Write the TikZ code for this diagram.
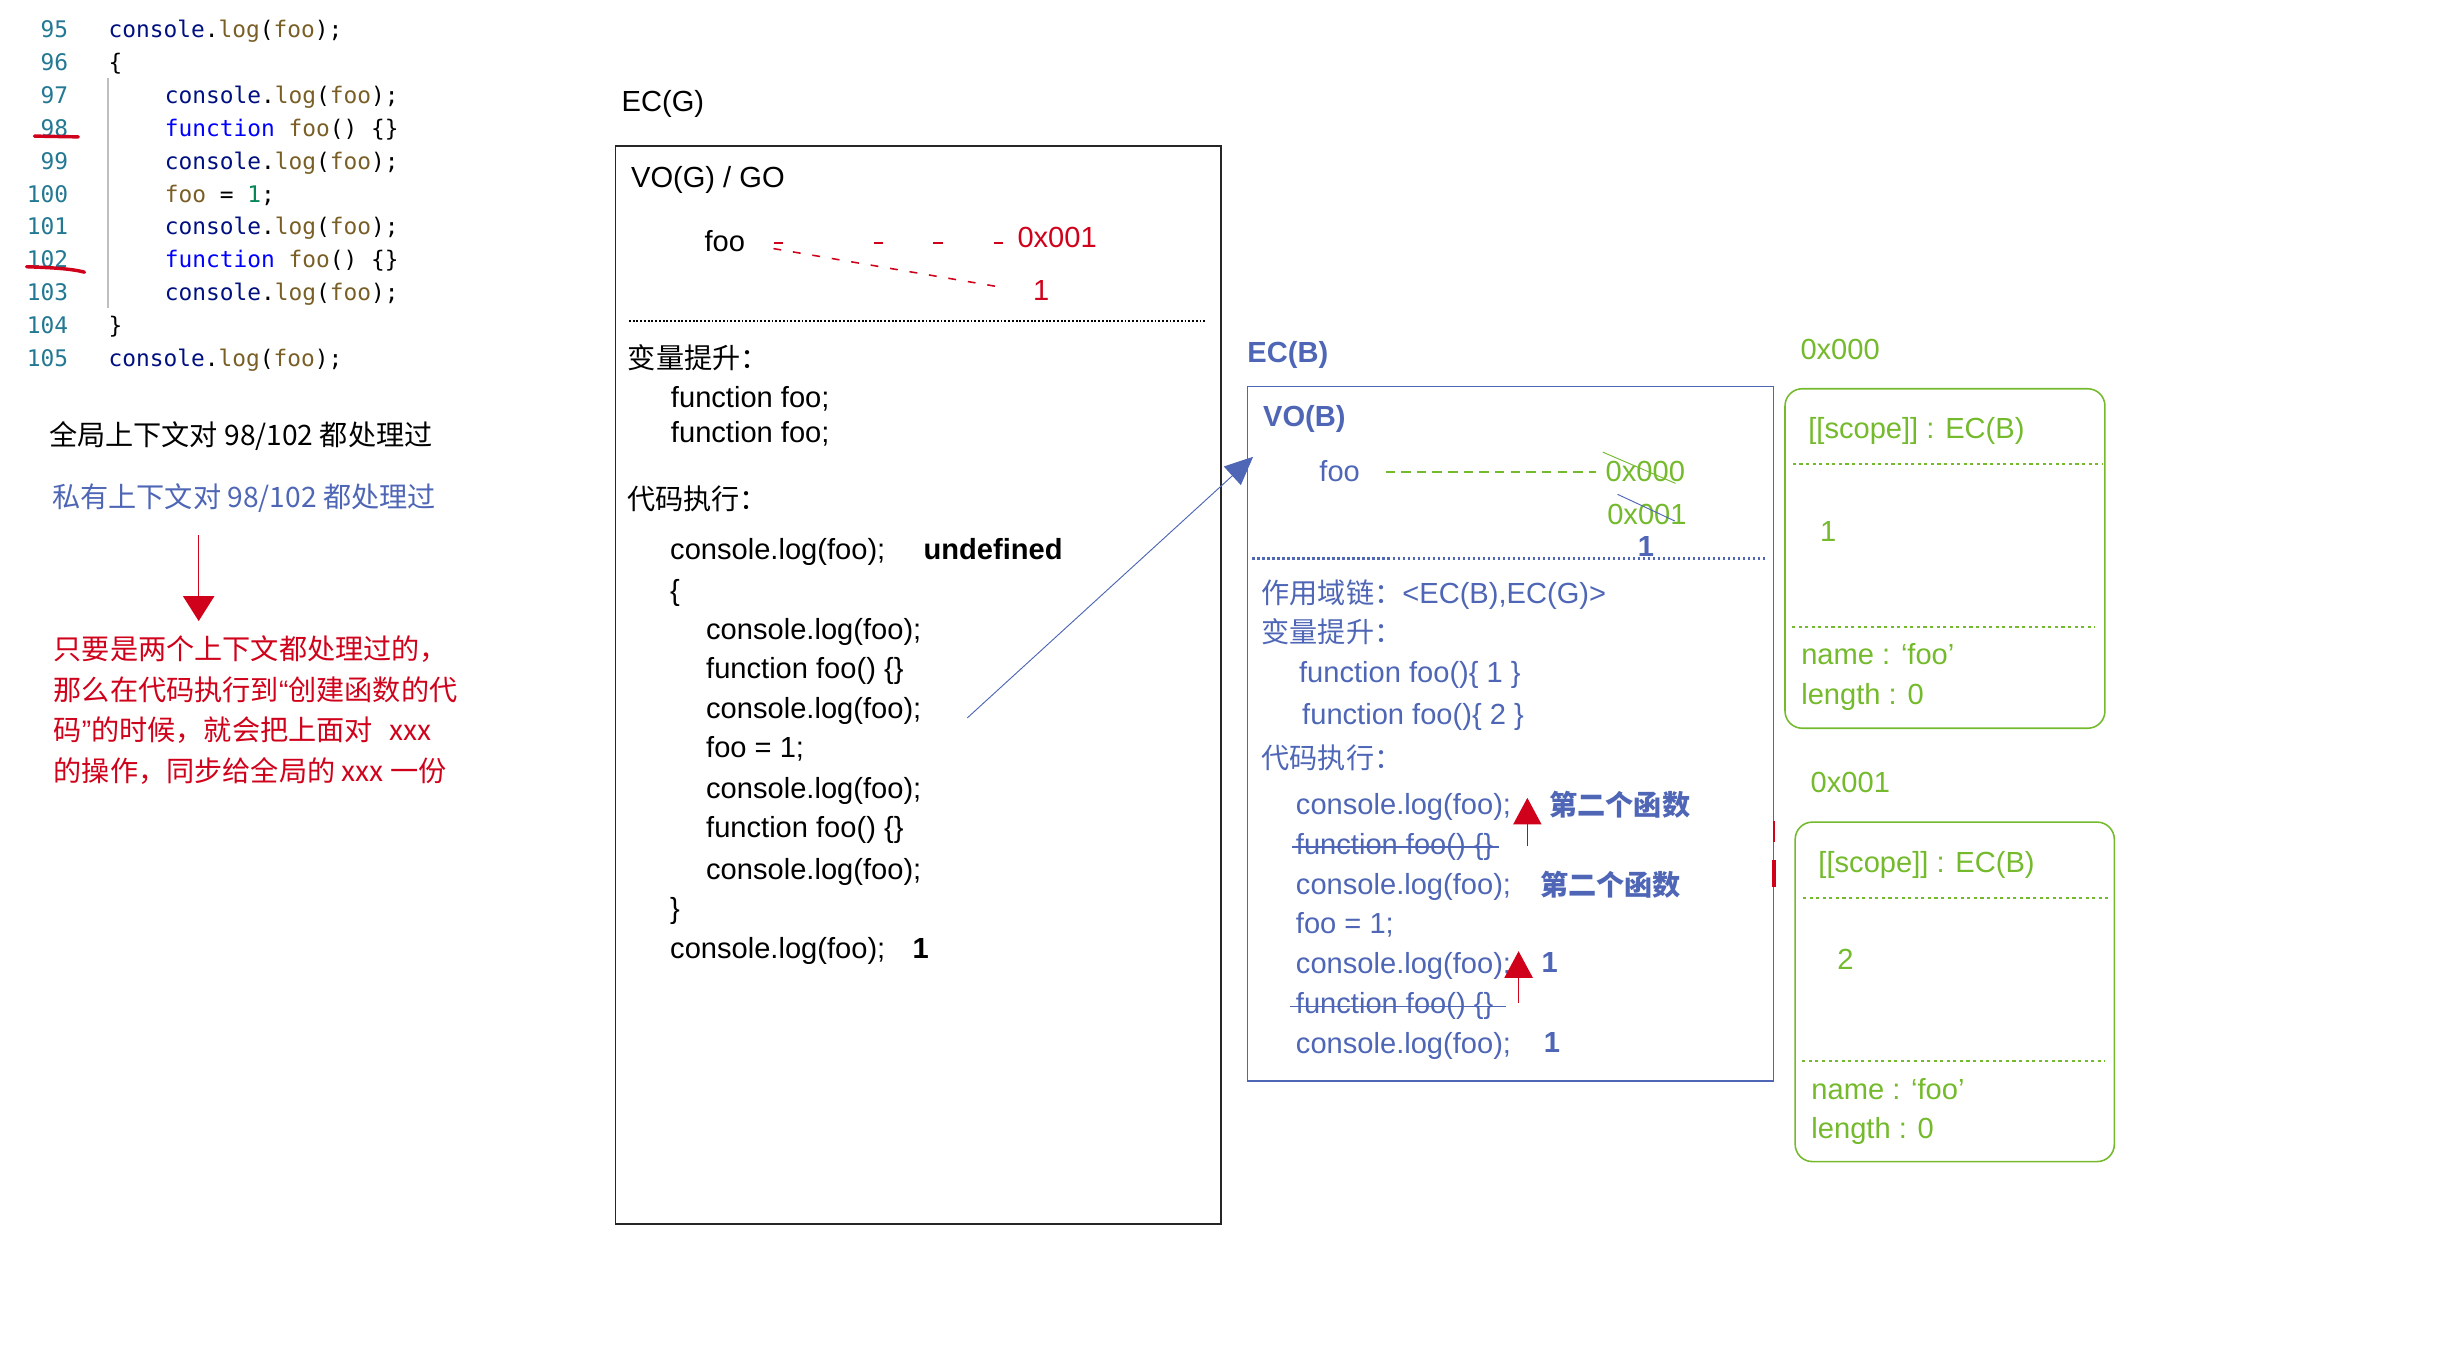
\documentclass[tikz,border=0pt]{standalone}
\usepackage{fontspec}
\setmainfont{Liberation Sans}
\newfontfamily\cjk{Noto Sans CJK SC}
\newfontfamily\mono{DejaVu Sans Mono}
\usetikzlibrary{arrows.meta}

\definecolor{ecblue}{RGB}{78,102,181}
\definecolor{objgreen}{RGB}{116,186,44}
\definecolor{notered}{RGB}{208,2,27}
\definecolor{lnum}{RGB}{35,120,147}
\definecolor{cvar}{RGB}{0,16,128}
\definecolor{cfn}{RGB}{121,94,38}
\definecolor{ckw}{RGB}{0,0,255}
\definecolor{cnum}{RGB}{9,134,88}

\newcommand{\bodysize}{\fontsize{9.3}{11}\selectfont}
\newcommand{\cjksize}{\fontsize{9}{11}\selectfont}
\newcommand{\clog}{{\color{cvar}console}.{\color{cfn}log}({\color{cfn}foo});}
\newcommand{\cfunc}{{\color{ckw}function} {\color{cfn}foo}() \{\}}
\newcommand{\cset}{{\color{cfn}foo} = {\color{cnum}1};}
\newcommand{\openq}{{\rmfamily “}}
\newcommand{\closeq}{{\rmfamily ”}}

\tikzset{
  lbl/.style={anchor=west, inner sep=0pt, text height=7.5pt, text depth=0.5pt, font=\bodysize},
  cjklbl/.style={lbl, font=\cjk\cjksize, text height=8.8pt, text depth=0.3pt},
  blbl/.style={lbl, text=ecblue},
  bcjk/.style={cjklbl, text=ecblue},
  glbl/.style={lbl, text=objgreen},
  codeln/.style={anchor=west, inner sep=0pt, text height=6.5pt, text depth=0.3pt, font=\mono\fontsize{7.3}{9}\selectfont},
  lnno/.style={codeln, anchor=east, text=lnum},
  ecgframe/.style={draw=black!85, line width=0.4pt, anchor=north west, inner sep=0pt},
  ecbframe/.style={draw=ecblue, line width=0.5pt, anchor=north west, inner sep=0pt},
  fnobj/.style={draw=objgreen, line width=0.5pt, rounded corners=5.5pt, anchor=north west, inner sep=0pt},
  gsep/.style={line width=0.65pt, dash pattern=on 0.6pt off 0.6pt},
  bsep/.style={draw=ecblue, line width=0.65pt, dash pattern=on 0.8pt off 0.8pt},
  osep/.style={draw=objgreen, line width=0.65pt, dash pattern=on 1pt off 1.1pt},
  strike/.style={draw=ecblue, line width=0.5pt},
  redmark/.style={draw=notered, line width=1.1pt, line cap=round},
  redup/.style={draw=notered, line width=0.5pt, -{Triangle[length=8.5pt,width=9pt]}},
  noteup/.style={draw=notered, line width=0.5pt, -{Triangle[length=8pt,width=10pt]}},
  linkarrow/.style={draw=ecblue, line width=0.3pt, -{Triangle[length=9pt,width=8pt]}}
}

\begin{document}
\begin{tikzpicture}[x=0.5pt,y=-0.5pt]
\useasboundingbox (0,0) rectangle (1568,872);

% source listing
\draw[black!25, line width=0.4pt] (69,50) -- (69,197);
\foreach \n/\x/\t in {95/69/\clog, 96/69/\{, 97/105/\clog, 98/105/\cfunc, 99/105/\clog, 100/105/\cset, 101/105/\clog, 102/105/\cfunc, 103/105/\clog, 104/69/\}, 105/69/\clog}{
  \node[lnno] (ln\n) at (44,{18+(\n-95)*21}) {\n};
  \node[codeln] (src\n) at (\x,{18+(\n-95)*21}) {\t};
}
\draw[redmark] (22,87) -- (50,87.5);
\draw[redmark] (17,170.5) .. controls (30,171) and (45,171.5) .. (54,174);

% notes
\node[cjklbl] (gnote) at (31,276) {全局上下文对 98/102 都处理过};
\node[cjklbl, text=ecblue] (bnote) at (33,316) {私有上下文对 98/102 都处理过};
\coordinate (noteS) at (127,342);
\coordinate (noteE) at (127,397);
\draw[noteup] (noteS) -- (noteE);
\node[cjklbl, text=notered] (r1) at (34,413) {只要是两个上下文都处理过的，};
\node[cjklbl, text=notered] (r2) at (34,439) {那么在代码执行到\openq 创建函数的代};
\node[cjklbl, text=notered] (r3) at (34,465) {码\closeq 的时候，就会把上面对\hspace{0.6em}xxx};
\node[cjklbl, text=notered] (r4) at (34,491) {的操作，同步给全局的 xxx 一份};

% EC(G)
\node[lbl] (ecgTitle) at (397,64) {EC(G)};
\node[ecgframe, minimum width=193.5pt, minimum height=344.5pt] (ecg) at (393,93) {};
\node[lbl] (vog) at (403,113) {VO(G) / GO};
\node[lbl] (fooG) at (450,153.5) {foo};
\node[lbl, text=notered] (hexG) at (650,151.5) {0x001};
\node[lbl, text=notered] (oneG) at (660,185) {1};
\draw[notered, line width=0.5pt, dash pattern=on 3pt off 29pt on 3pt off 16pt on 3pt off 16.5pt on 3pt off 40pt, shorten <=9pt, shorten >=4.5pt] ([yshift=-1pt]fooG.east) -- ([yshift=-1pt]fooG.east -| hexG.west);
\draw[notered, line width=0.5pt, dash pattern=on 2.5pt off 3.8pt, shorten <=9pt, shorten >=10pt] ([yshift=3pt]fooG.south east) -- ([yshift=-1pt]oneG.west);
\draw[gsep] (402,205) -- (771,205);
\node[cjklbl] (hoistG) at (401,227) {变量提升：};
\node[lbl] (fdG1) at (428.5,253.5) {function foo;};
\node[lbl] (fdG2) at (428.5,276) {function foo;};
\node[cjklbl] (execG) at (400.5,317) {代码执行：};
\node[lbl] (g1) at (428,350.5) {console.log(foo);};
\node[lbl, font=\bodysize\bfseries] (g1v) at (590,350.5) {undefined};
\node[lbl] (g2) at (428,377) {\{};
\node[lbl] (g3) at (451,401.5) {console.log(foo);};
\node[lbl] (g4) at (451,426.5) {function foo() \{\}};
\node[lbl] (g5) at (451,452.5) {console.log(foo);};
\node[lbl] (g6) at (451,477.5) {foo = 1;};
\node[lbl] (g7) at (451,503.5) {console.log(foo);};
\node[lbl] (g8) at (451,528.5) {function foo() \{\}};
\node[lbl] (g9) at (451,555) {console.log(foo);};
\node[lbl] (g10) at (428,580) {\}};
\node[lbl] (g11) at (428,606) {console.log(foo);};
\node[lbl, font=\bodysize\bfseries] (g11v) at (583,606) {1};

% link to EC(B)
\coordinate (btip) at (801,292);
\draw[linkarrow] ([xshift=14.5pt,yshift=-3.2pt]g5.east) -- (btip);

% EC(B)
\node[lbl, text=ecblue, font=\bodysize\bfseries] (ecbTitle) at (797,224.5) {EC(B)};
\node[ecbframe, minimum width=168pt, minimum height=222pt] (ecb) at (797,246.5) {};
\node[lbl, text=ecblue, font=\bodysize\bfseries] (vob) at (807,265.5) {VO(B)};
\node[blbl] (fooB) at (843,300.5) {foo};
\node[glbl] (hexB0) at (1026,300.5) {0x000};
\node[glbl] (hexB1) at (1027,328) {0x001};
\node[lbl, text=ecblue, font=\bodysize\bfseries] (oneB) at (1046.5,348.5) {1};
\draw[objgreen, line width=0.7pt, dash pattern=on 3pt off 2pt, shorten <=8pt, shorten >=3pt] ([yshift=-0.5pt]fooB.east) -- ([yshift=-0.5pt]hexB0.west);
\draw[objgreen, line width=0.3pt] (1024.5,289) -- (1071,309);
\draw[ecblue, line width=0.3pt] (1034,316) -- (1070.5,333);
\draw[bsep] (800.5,357) -- (1128,357);
\node[bcjk] (chain) at (806,377) {作用域链：{\rmfamily\bodysize <EC(B),EC(G)>}};
\node[bcjk] (hoistB) at (806,402.5) {变量提升：};
\node[blbl] (fnB1) at (830,429.5) {function foo()\{ 1 \}};
\node[blbl] (fnB2) at (832,456) {function foo()\{ 2 \}};
\node[bcjk] (execB) at (806,483) {代码执行：};
\node[blbl] (b1) at (828,513.5) {console.log(foo);};
\node[bcjk, font=\cjk\cjksize\bfseries] (b1v) at (990,513) {第二个函数};
\node[blbl] (b2) at (828,539) {function foo() \{\}};
\draw[strike] ([xshift=-1pt,yshift=-1.2pt]b2.west) -- ([xshift=1.5pt,yshift=-1.2pt]b2.east);
\node[blbl] (b3) at (828,564.5) {console.log(foo);};
\node[bcjk, font=\cjk\cjksize\bfseries] (b3v) at (984,564) {第二个函数};
\node[blbl] (b4) at (828,590) {foo = 1;};
\node[blbl] (b5) at (828,615.5) {console.log(foo);};
\node[lbl, text=ecblue, font=\bodysize\bfseries] (b5v) at (985,614.5) {1};
\node[blbl] (b6) at (828,641) {function foo() \{\}};
\draw[strike] ([xshift=-1.8pt,yshift=-1.2pt]b6.west) -- ([xshift=4pt,yshift=-1.2pt]b6.east);
\node[blbl] (b7) at (828,666.5) {console.log(foo);};
\node[lbl, text=ecblue, font=\bodysize\bfseries] (b7v) at (986.5,665.5) {1};
\coordinate (upA1) at (976.3,541);
\coordinate (upA2) at (976.3,510);
\draw[redup] (upA1) -- (upA2);
\coordinate (upB1) at (970.7,641);
\coordinate (upB2) at (970.7,608);
\draw[redup] (upB1) -- (upB2);
\draw[notered, line width=0.8pt] (1134,525) -- (1134,538);
\draw[notered, line width=1.1pt] (1134,550) -- (1134,567);

% function objects
\node[glbl] (addr0) at (1150.5,222.5) {0x000};
\node[fnobj, minimum width=102.25pt, minimum height=108.5pt] (obj0) at (1140.5,248) {};
\node[glbl] (scope0) at (1155.5,273.5) {[[scope]] : EC(B)};
\draw[osep] (1146,296.5) -- (1343.5,296.5);
\node[glbl] (val0) at (1163,339) {1};
\draw[osep] (1145.5,401) -- (1339,401);
\node[glbl] (name0) at (1151,417.5) {name : ‘foo’};
\node[glbl] (len0) at (1151,443.5) {length : 0};

\node[glbl] (addr1) at (1157,499.5) {0x001};
\node[fnobj, minimum width=102pt, minimum height=108.5pt] (obj1) at (1147,525) {};
\node[glbl] (scope1) at (1162,551) {[[scope]] : EC(B)};
\draw[osep] (1152.5,574) -- (1349.5,574);
\node[glbl] (val1) at (1174,612.5) {2};
\draw[osep] (1152,678.5) -- (1345.5,678.5);
\node[glbl] (name1) at (1157.5,695.5) {name : ‘foo’};
\node[glbl] (len1) at (1157.5,721) {length : 0};
\end{tikzpicture}
\end{document}
